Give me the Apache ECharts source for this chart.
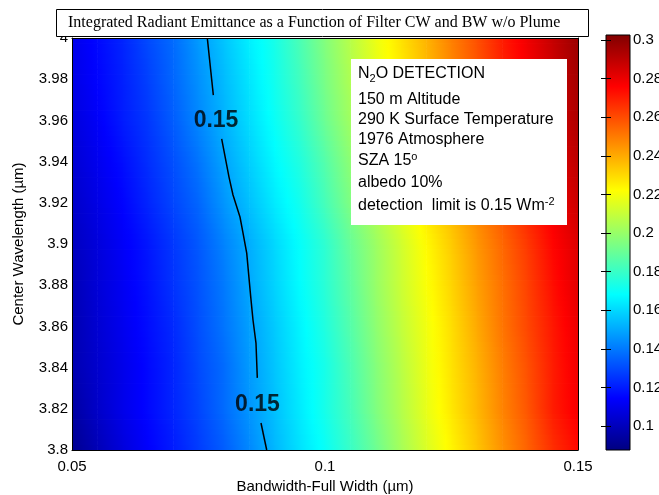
<!DOCTYPE html>
<html>
<head>
<meta charset="utf-8">
<script src="https://cdn.jsdelivr.net/npm/echarts@6/dist/echarts.min.js"></script>
<style>
  html, body { margin: 0; padding: 0; background: #fff; }
  #chart { width: 659px; height: 495px; }
</style>
</head>
<body>
<div id="chart"></div>
<script>
// filter bandwidth nodes (um)
const bandwidth = [0.05, 0.055, 0.06, 0.065, 0.07, 0.075, 0.08, 0.085, 0.09, 0.095, 0.1,
  0.105, 0.11, 0.115, 0.12, 0.125, 0.13, 0.135, 0.14, 0.145, 0.15]
// center wavelength nodes (um), bottom to top
const wavelength = [3.8, 3.82, 3.84, 3.86, 3.88, 3.9, 3.92, 3.94, 3.96, 3.98, 4.0]

// integrated radiant emittance, one row per wavelength (bottom first)
const em380 = [0.091, 0.099, 0.107, 0.114, 0.120, 0.127, 0.134, 0.143, 0.153, 0.162, 0.170, 0.180, 0.191, 0.203, 0.214, 0.224, 0.234, 0.245, 0.255, 0.266, 0.274]
const em382 = [0.095, 0.103, 0.110, 0.116, 0.122, 0.129, 0.137, 0.146, 0.155, 0.164, 0.173, 0.183, 0.195, 0.206, 0.217, 0.227, 0.237, 0.248, 0.258, 0.270, 0.278]
const em384 = [0.098, 0.104, 0.110, 0.116, 0.122, 0.130, 0.137, 0.147, 0.156, 0.165, 0.173, 0.184, 0.196, 0.207, 0.218, 0.228, 0.238, 0.249, 0.259, 0.270, 0.279]
const em386 = [0.098, 0.105, 0.111, 0.117, 0.123, 0.131, 0.139, 0.148, 0.157, 0.166, 0.175, 0.186, 0.198, 0.209, 0.219, 0.229, 0.240, 0.251, 0.261, 0.271, 0.280]
const em388 = [0.099, 0.106, 0.112, 0.118, 0.125, 0.132, 0.140, 0.150, 0.159, 0.168, 0.177, 0.188, 0.200, 0.211, 0.221, 0.231, 0.242, 0.252, 0.262, 0.273, 0.282]
const em390 = [0.101, 0.107, 0.113, 0.119, 0.126, 0.133, 0.142, 0.151, 0.160, 0.169, 0.178, 0.190, 0.201, 0.212, 0.223, 0.233, 0.244, 0.254, 0.264, 0.275, 0.283]
const em392 = [0.103, 0.109, 0.115, 0.122, 0.129, 0.136, 0.146, 0.155, 0.164, 0.172, 0.183, 0.195, 0.206, 0.217, 0.227, 0.237, 0.248, 0.258, 0.269, 0.278, 0.287]
const em394 = [0.105, 0.111, 0.117, 0.124, 0.131, 0.139, 0.149, 0.158, 0.167, 0.175, 0.186, 0.198, 0.209, 0.220, 0.230, 0.240, 0.251, 0.261, 0.272, 0.281, 0.290]
const em396 = [0.107, 0.113, 0.120, 0.126, 0.134, 0.143, 0.152, 0.161, 0.170, 0.179, 0.191, 0.202, 0.213, 0.224, 0.234, 0.244, 0.255, 0.265, 0.275, 0.284, 0.293]
const em398 = [0.109, 0.115, 0.121, 0.128, 0.136, 0.145, 0.154, 0.163, 0.172, 0.182, 0.194, 0.205, 0.216, 0.226, 0.236, 0.247, 0.257, 0.268, 0.277, 0.286, 0.295]
const em400 = [0.110, 0.116, 0.122, 0.130, 0.137, 0.147, 0.156, 0.165, 0.173, 0.184, 0.196, 0.207, 0.218, 0.228, 0.238, 0.249, 0.259, 0.270, 0.279, 0.288, 0.297]
const emittance = [em380, em382, em384, em386, em388, em390, em392, em394, em396, em398, em400]

// 0.15 W/m2 contour, split where the labels sit
const contourTop = [[0.07674, 4.0], [0.07793, 3.9723]]
const contourMid = [[0.07958, 3.951], [0.08103, 3.9325], [0.08182, 3.9238], [0.0832, 3.9131],
  [0.0838, 3.9053], [0.08453, 3.8956], [0.08532, 3.8743], [0.08577, 3.8631], [0.08636, 3.8519], [0.08662, 3.835]]
const contourLow = [[0.08735, 3.8131], [0.08848, 3.8]]
const contourLabels = [[0.07846, 3.9597], [0.08666, 3.8218]]

// colorbar range and ticks
const cbMin = 0.0876
const cbMax = 0.3026
const cbTicks = [0.1, 0.12, 0.14, 0.16, 0.18, 0.2, 0.22, 0.24, 0.26, 0.28, 0.3]

const clamp = v => Math.max(0, Math.min(1, v))
// MATLAB jet colormap
function jet(v) {
  const f = clamp((v - cbMin) / (cbMax - cbMin))
  const r = clamp(1.5 - Math.abs(4 * f - 3))
  const g = clamp(1.5 - Math.abs(4 * f - 2))
  const b = clamp(1.5 - Math.abs(4 * f - 1))
  return 'rgb(' + Math.round(r * 255) + ',' + Math.round(g * 255) + ',' + Math.round(b * 255) + ')'
}

const cells = []
for (let r = 0; r < wavelength.length - 1; r += 1) {
  for (let c = 0; c < bandwidth.length - 1; c += 1) {
    cells.push([bandwidth[c], bandwidth[c + 1], wavelength[r], wavelength[r + 1],
      emittance[r][c], emittance[r][c + 1], emittance[r + 1][c], emittance[r + 1][c + 1]])
  }
}

const STRIPS = 8
// interpolated shading inside one cell
function renderCell(params, api) {
  const pTL = api.coord([api.value(0), api.value(3)])
  const pBR = api.coord([api.value(1), api.value(2)])
  const bl = api.value(4), br = api.value(5), tl = api.value(6), tr = api.value(7)
  const w = pBR[0] - pTL[0]
  const h = pBR[1] - pTL[1]
  const children = []
  for (let k = 0; k < STRIPS; k += 1) {
    const t = (k + 0.5) / STRIPS
    const left = tl + (bl - tl) * t
    const right = tr + (br - tr) * t
    const stops = [0, 0.25, 0.5, 0.75, 1].map(s => ({ offset: s, color: jet(left + (right - left) * s) }))
    children.push({
      type: 'rect',
      shape: { x: pTL[0], y: pTL[1] + h * k / STRIPS, width: w + 0.6, height: h / STRIPS + 0.8 },
      style: { fill: new echarts.graphic.LinearGradient(0, 0, 1, 0, stops) },
    })
  }
  return { type: 'group', children }
}

function renderColorbar(params, api) {
  const p0 = api.coord([0, api.value(1)])
  const p1 = api.coord([1, api.value(0)])
  const stops = []
  for (let i = 0; i <= 8; i += 1) {
    stops.push({ offset: i / 8, color: jet(cbMin + (cbMax - cbMin) * i / 8) })
  }
  return {
    type: 'rect',
    shape: { x: p0[0], y: p0[1], width: p1[0] - p0[0], height: p1[1] - p0[1] },
    style: { fill: new echarts.graphic.LinearGradient(0, 1, 0, 0, stops), stroke: '#000', lineWidth: 1 },
  }
}

const font = 'Liberation Sans'
const lineStyle = { color: '#000', width: 1 }

function contourSeries(data) {
  return {
    type: 'line',
    data,
    xAxisIndex: 0,
    yAxisIndex: 0,
    symbol: 'none',
    z: 4,
    lineStyle: { color: '#000', width: 1.5 },
  }
}

const chart = echarts.init(document.getElementById('chart'))
chart.setOption({
  animation: false,
  backgroundColor: '#fff',
  grid: [
    { left: 72, top: 38, width: 506, height: 412, outerBoundsMode: 'none', containLabel: false },
    { left: 606, top: 35, width: 24, height: 415, outerBoundsMode: 'none', containLabel: false },
  ],
  xAxis: [
    {
      gridIndex: 0, type: 'value', min: 0.05, max: 0.15, interval: 0.05, z: 10,
      axisLine: { lineStyle }, axisTick: { show: false }, splitLine: { show: false },
      axisLabel: { color: '#000', fontFamily: font, fontSize: 15, margin: 9 },
      name: 'Bandwidth-Full Width (\u00b5m)', nameLocation: 'middle', nameGap: 29,
      nameTextStyle: { color: '#000', fontFamily: font, fontSize: 15 },
    },
    {
      gridIndex: 0, type: 'value', position: 'top', min: 0.05, max: 0.15, z: 10,
      axisLine: { lineStyle }, axisTick: { show: false }, axisLabel: { show: false }, splitLine: { show: false },
    },
    { gridIndex: 1, type: 'value', min: 0, max: 1, show: false },
  ],
  yAxis: [
    {
      gridIndex: 0, type: 'value', min: 3.8, max: 4.0, interval: 0.02, z: 10,
      axisLine: { lineStyle }, axisTick: { show: false }, splitLine: { show: false },
      axisLabel: { color: '#000', fontFamily: font, fontSize: 15, margin: 4 },
      name: 'Center Wavelength (\u00b5m)', nameLocation: 'middle', nameGap: 46,
      nameTextStyle: { color: '#000', fontFamily: font, fontSize: 15 },
    },
    {
      gridIndex: 0, type: 'value', position: 'right', min: 3.8, max: 4.0, z: 10,
      axisLine: { lineStyle }, axisTick: { show: false }, axisLabel: { show: false }, splitLine: { show: false },
    },
    {
      gridIndex: 1, type: 'value', position: 'right', min: cbMin, max: cbMax, z: 10,
      axisLine: { show: false }, splitLine: { show: false },
      axisTick: { show: true, inside: true, length: 5, lineStyle, customValues: cbTicks },
      axisLabel: {
        color: '#000', fontFamily: font, fontSize: 15, margin: 3, customValues: cbTicks,
        formatter: v => String(+(+v).toFixed(2)),
      },
    },
    {
      gridIndex: 1, type: 'value', position: 'left', min: cbMin, max: cbMax, z: 10,
      axisLine: { show: false }, splitLine: { show: false }, axisLabel: { show: false },
      axisTick: { show: true, inside: true, length: 5, lineStyle, customValues: cbTicks },
    },
  ],
  series: [
    {
      type: 'custom',
      xAxisIndex: 0,
      yAxisIndex: 0,
      clip: true,
      z: 2,
      encode: { x: [0, 1], y: [2, 3] },
      renderItem: renderCell,
      data: cells,
    },
    contourSeries(contourTop),
    contourSeries(contourMid),
    contourSeries(contourLow),
    {
      type: 'scatter',
      xAxisIndex: 0,
      yAxisIndex: 0,
      symbolSize: 0,
      z: 5,
      data: contourLabels,
      label: {
        show: true, position: 'inside', formatter: '0.15',
        color: '#000', fontFamily: font, fontSize: 23, fontWeight: 'bold',
      },
    },
    {
      type: 'custom',
      xAxisIndex: 2,
      yAxisIndex: 2,
      z: 2,
      encode: { x: 0, y: [0, 1] },
      renderItem: renderColorbar,
      data: [[cbMin, cbMax]],
    },
  ],
  graphic: [
    {
      type: 'rect', z: 100,
      shape: { x: 56.5, y: 9.5, width: 532, height: 27 },
      style: { fill: '#fff', stroke: '#000', lineWidth: 1 },
    },
    {
      type: 'text', z: 101, x: 68, y: 23,
      style: {
        text: 'Integrated Radiant Emittance as a Function of Filter CW and BW w/o Plume',
        font: '16px "Liberation Serif"', fill: '#000', verticalAlign: 'middle',
      },
    },
    {
      type: 'rect', z: 100,
      shape: { x: 351, y: 59, width: 216, height: 166 },
      style: { fill: '#fff' },
    },
    {
      type: 'text', z: 101, x: 358, y: 74,
      style: {
        text: '{n|N}{sub|2}{n|O DETECTION}', verticalAlign: 'middle',
        rich: {
          n: { fontFamily: font, fontSize: 16, lineHeight: 20, color: '#000' },
          sub: { fontFamily: font, fontSize: 11, lineHeight: 10, verticalAlign: 'bottom', color: '#000' },
        },
      },
    },
    { type: 'text', z: 101, x: 358, y: 100, style: { text: '150 m Altitude', font: '16px "Liberation Sans"', fill: '#000', verticalAlign: 'middle' } },
    { type: 'text', z: 101, x: 358, y: 120, style: { text: '290 K Surface Temperature', font: '16px "Liberation Sans"', fill: '#000', verticalAlign: 'middle' } },
    { type: 'text', z: 101, x: 358, y: 140, style: { text: '1976 Atmosphere', font: '16px "Liberation Sans"', fill: '#000', verticalAlign: 'middle' } },
    {
      type: 'text', z: 101, x: 358, y: 161,
      style: {
        text: '{n|SZA 15}{sup|o}', verticalAlign: 'middle',
        rich: {
          n: { fontFamily: font, fontSize: 16, lineHeight: 20, color: '#000' },
          sup: { fontFamily: font, fontSize: 11, lineHeight: 10, verticalAlign: 'top', color: '#000' },
        },
      },
    },
    { type: 'text', z: 101, x: 358, y: 183, style: { text: 'albedo 10%', font: '16px "Liberation Sans"', fill: '#000', verticalAlign: 'middle' } },
    {
      type: 'text', z: 101, x: 358, y: 206,
      style: {
        text: '{n|detection  limit is 0.15 Wm}{sup|-2}', verticalAlign: 'middle',
        rich: {
          n: { fontFamily: font, fontSize: 16, lineHeight: 20, color: '#000' },
          sup: { fontFamily: font, fontSize: 11, lineHeight: 10, verticalAlign: 'top', color: '#000' },
        },
      },
    },
  ],
})
</script>
</body>
</html>
